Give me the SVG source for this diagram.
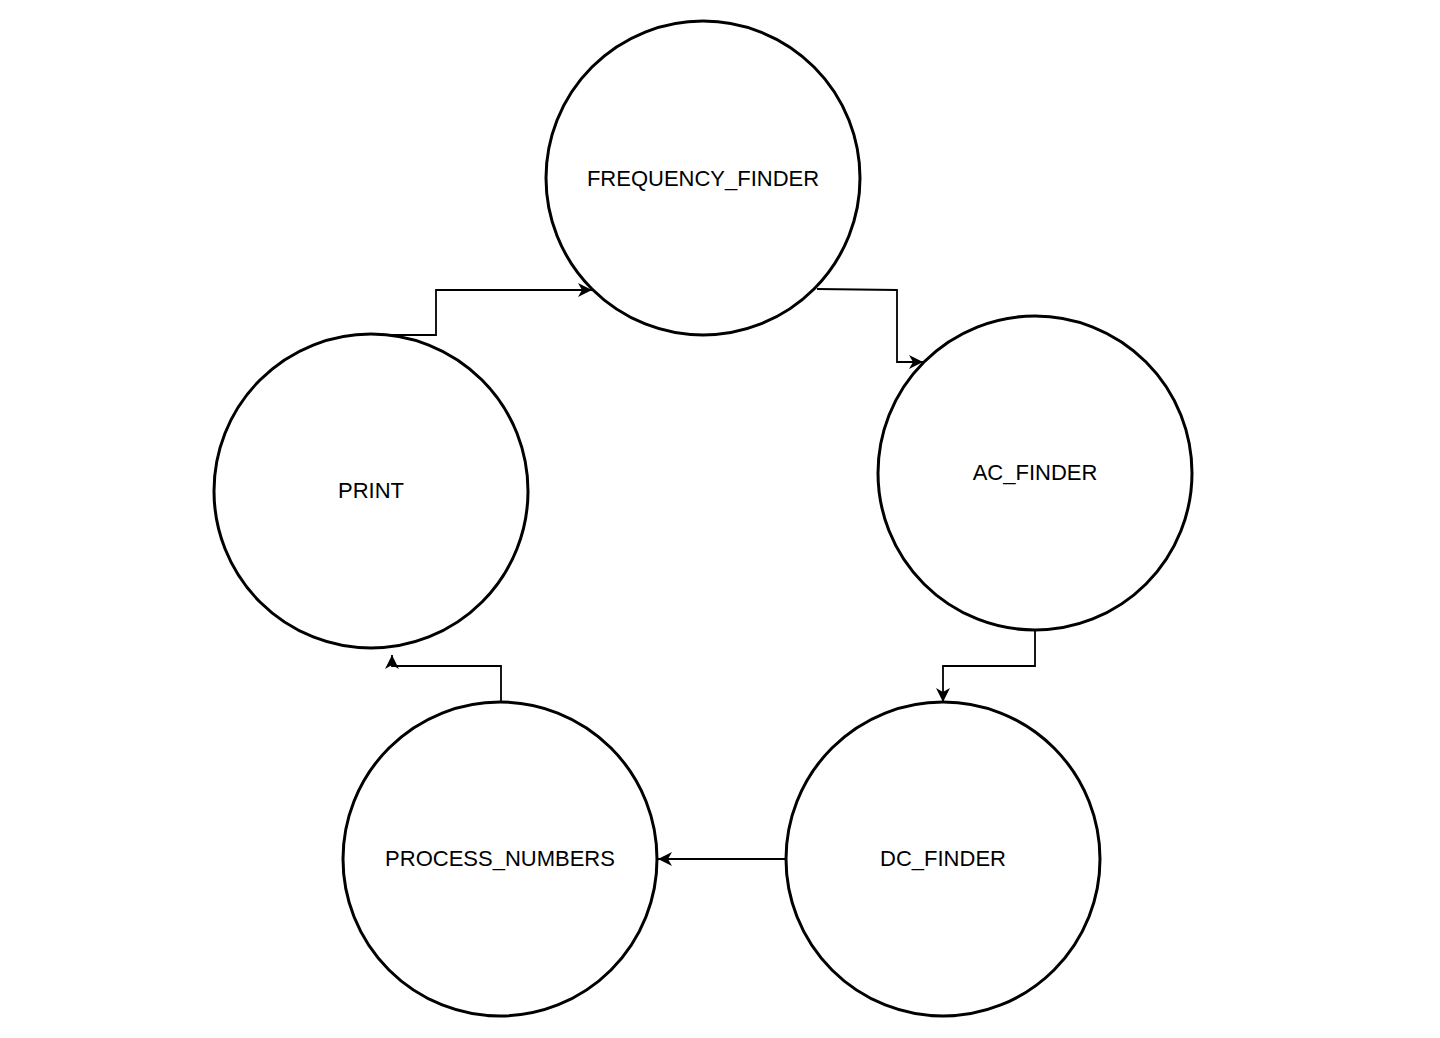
<svg xmlns="http://www.w3.org/2000/svg" width="1440" height="1038" viewBox="0 0 1440 1038">
<style>
.node circle{fill:#fff;stroke:#000;stroke-width:3}
.node text{font-family:"Liberation Sans",Arial,sans-serif;font-size:22px;fill:#000;text-anchor:middle}
.edge{fill:none;stroke:#000;stroke-width:1.8}
</style>
<defs>
<marker id="arr" markerUnits="userSpaceOnUse" markerWidth="18" markerHeight="16" refX="14" refY="7" orient="auto">
<path d="M0,0 L14,7 L0,14 L4,7 Z" fill="#000"/>
</marker>
</defs>
<rect width="1440" height="1038" fill="#fff"/>
<g id="connectors">
<path class="edge" d="M371,335 L436,335 L436,290 L592,290" marker-end="url(#arr)"/>
<path class="edge" d="M817,289 L897,290 L897,362 L923,362" marker-end="url(#arr)"/>
<path class="edge" d="M1035,630 L1035,666 L943,666 L943,702" marker-end="url(#arr)"/>
<path class="edge" d="M786,859 L658,859" marker-end="url(#arr)"/>
<path class="edge" d="M501,702 L501,666 L392,666 L392,655" marker-end="url(#arr)"/>
</g>
<g id="node-frequency-finder" class="node">
<circle cx="703" cy="178" r="157"/>
<text x="703" y="186">FREQUENCY_FINDER</text>
</g>
<g id="node-ac-finder" class="node">
<circle cx="1035" cy="473" r="157"/>
<text x="1035" y="480">AC_FINDER</text>
</g>
<g id="node-dc-finder" class="node">
<circle cx="943" cy="859" r="157"/>
<text x="943" y="866">DC_FINDER</text>
</g>
<g id="node-process-numbers" class="node">
<circle cx="500" cy="859" r="157"/>
<text x="500" y="866">PROCESS_NUMBERS</text>
</g>
<g id="node-print" class="node">
<circle cx="371" cy="491" r="157"/>
<text x="371" y="498">PRINT</text>
</g>
</svg>
